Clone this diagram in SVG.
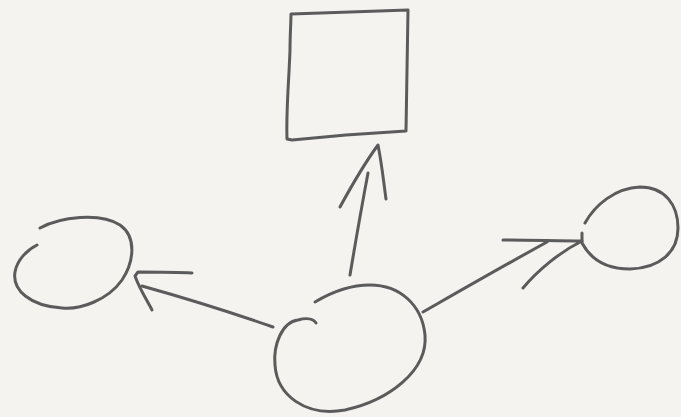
<svg xmlns="http://www.w3.org/2000/svg" width="681" height="417" viewBox="0 0 681 417">
<style>
.s{fill:none;stroke:#5b5b5b;stroke-width:3;stroke-linecap:round;stroke-linejoin:round}
</style>
<rect width="681" height="417" fill="#f4f3ef"/>
<g id="square"><path class="s" d="M291,14 L350,12 L408,10 L407,70 L406,131 L346,135 L292,140 L287,139 C286,110 289,80 290,50 C290,35 291,22 291,14"/></g>
<g id="left"><path class="s" d="M40,228 C60,217 100,212 120,225 C137,237 134,262 122,280 C108,300 80,310 62,308 C30,306 12,290 15,272 C17,260 27,250 37,245"/></g>
<g id="right"><path class="s" d="M585,223 C595,205 615,188 640,187 C665,187 678,205 678,228 C678,252 660,268 630,269 C605,269 590,258 582,243 L582,233"/></g>
<g id="bottom"><path class="s" d="M315,302 C330,293 350,285 370,285 C400,285 422,305 425,335 C428,370 390,400 345,410 C305,417 277,395 275,365 C273,345 282,322 298,320 C305,318 313,318 316,323"/></g>
<g id="connectors">
<path class="s" d="M350,275 C355,245 362,205 368,173"/>
<path class="s" d="M340,207 C352,185 367,160 378,145 C382,165 384,185 386,199"/>
<path class="s" d="M273,327 C230,312 185,298 142,286"/>
<path class="s" d="M192,273 C175,272 150,272 138,272 L135,276 C140,290 147,300 152,310"/>
<path class="s" d="M423,312 C465,288 505,265 547,242"/>
<path class="s" d="M503,240 C530,240 560,241 582,241 C560,252 538,270 523,288"/>
</g>
</svg>
